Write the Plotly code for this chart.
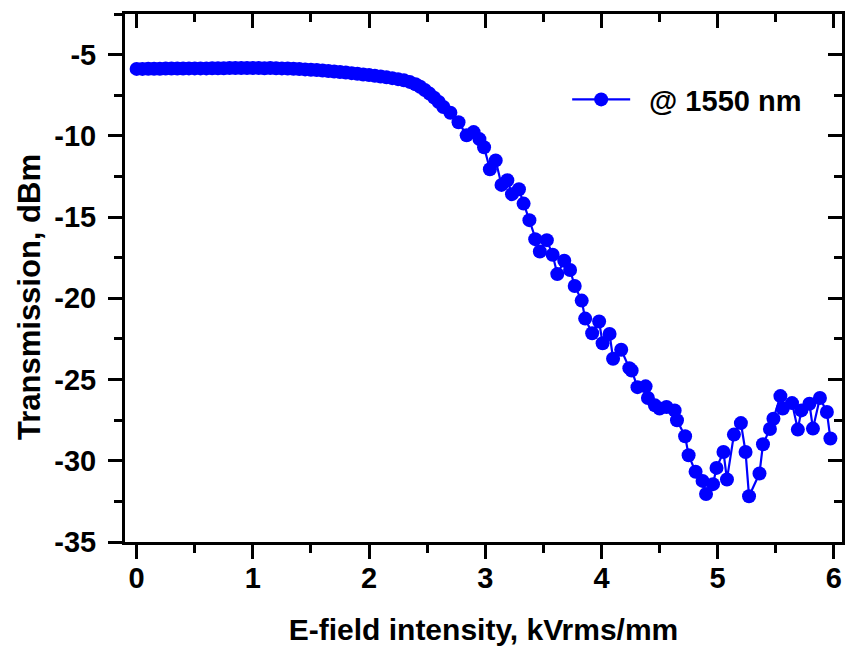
import plotly.graph_objects as go

# E-field intensity (kVrms/mm)
x_kv = [0.00, 0.05, 0.10, 0.15, 0.20, 0.25, 0.30, 0.35, 0.40, 0.45,
        0.50, 0.55, 0.60, 0.65, 0.70, 0.75, 0.80, 0.85, 0.90, 0.95,
        1.00, 1.05, 1.10, 1.15, 1.20, 1.25, 1.30, 1.35, 1.40, 1.45,
        1.50, 1.55, 1.60, 1.65, 1.70, 1.75, 1.80, 1.85, 1.90, 1.95,
        2.00, 2.05, 2.10, 2.15, 2.20, 2.25, 2.30, 2.35, 2.40, 2.44,
        2.48, 2.52, 2.56, 2.60, 2.64, 2.70, 2.77, 2.84, 2.90, 2.95,
        2.99, 3.04, 3.09, 3.14, 3.19, 3.23, 3.29, 3.33, 3.38, 3.43,
        3.47, 3.53, 3.58, 3.62, 3.68, 3.73, 3.77, 3.83, 3.86, 3.92,
        3.98, 4.01, 4.07, 4.10, 4.17, 4.24, 4.26, 4.31, 4.38, 4.40,
        4.46, 4.50, 4.56, 4.63, 4.65, 4.72, 4.75, 4.81, 4.87, 4.90,
        4.96, 4.99, 5.05, 5.08, 5.14, 5.20, 5.24, 5.27, 5.36, 5.39,
        5.45, 5.48, 5.54, 5.56, 5.64, 5.69, 5.72, 5.79, 5.82, 5.88,
        5.94, 5.97]

# Transmission (dBm) @ 1550 nm
trans_dbm = [-5.88, -5.88, -5.87, -5.87, -5.87, -5.86, -5.86, -5.86, -5.86, -5.85,
             -5.85, -5.85, -5.85, -5.84, -5.84, -5.84, -5.83, -5.83, -5.83, -5.83,
             -5.82, -5.83, -5.84, -5.83, -5.84, -5.85, -5.86, -5.87, -5.89, -5.91,
             -5.93, -5.95, -5.98, -6.01, -6.04, -6.07, -6.10, -6.14, -6.18, -6.22,
             -6.26, -6.30, -6.35, -6.40, -6.45, -6.51, -6.58, -6.68, -6.82, -6.98,
             -7.18, -7.40, -7.65, -7.92, -8.22, -8.58, -9.16, -9.97, -9.77, -10.20,
             -10.70, -12.06, -11.51, -13.02, -12.73, -13.59, -13.29, -14.17, -15.19, -16.36,
             -17.12, -16.42, -17.32, -18.51, -17.69, -18.26, -19.24, -20.14, -21.25, -22.15,
             -21.43, -22.77, -22.19, -23.72, -23.17, -24.30, -24.44, -25.47, -25.42, -26.14,
             -26.59, -26.79, -26.69, -26.90, -27.51, -28.49, -29.66, -30.68, -31.24, -32.05,
             -31.44, -30.44, -29.46, -31.15, -28.39, -27.68, -29.46, -32.18, -30.78, -28.98,
             -28.04, -27.41, -26.02, -26.79, -26.45, -28.08, -26.90, -26.49, -28.02, -26.14,
             -27.00, -28.63]

x_ticks = [0, 1, 2, 3, 4, 5, 6]
x_labels = ["0", "1", "2", "3", "4", "5", "6"]
y_ticks = [-5, -10, -15, -20, -25, -30, -35]
y_labels = ["-5", "-10", "-15", "-20", "-25", "-30", "-35"]
series_name = "@ 1550 nm"
x_title = "E-field intensity, kVrms/mm"
y_title = "Transmission, dBm"

FONT = "Arial, Liberation Sans, sans-serif"
BLUE = "#0000FF"
XR = [-0.1, 6.07]
YR = [-35, -2.5]
FS = 29

fig = go.Figure()
fig.add_trace(go.Scatter(
    x=x_kv, y=trans_dbm, mode="lines+markers", name="\u00a0\u2009" + series_name,
    line=dict(color=BLUE, width=2.2),
    marker=dict(color=BLUE, size=14, line=dict(width=0)),
))
fig.add_trace(go.Scatter(x=[], y=[], xaxis="x2", yaxis="y2", showlegend=False))

tickfont = dict(family=FONT, size=FS, color="black", weight="bold")
common = dict(showline=True, linecolor="black", linewidth=3, showgrid=False,
              zeroline=False, tickcolor="black", tickwidth=3)

fig.update_layout(
    width=845, height=651,
    margin=dict(l=125, r=3, t=14, b=109),
    paper_bgcolor="white", plot_bgcolor="white",
    font=dict(family=FONT, color="black"),
    xaxis=dict(range=XR, tickvals=x_ticks, ticktext=x_labels, ticks="outside", ticklen=14,
               tickfont=tickfont, ticklabelstandoff=-6,
               minor=dict(dtick=0.5, tick0=0, ticks="outside", ticklen=8,
                          tickwidth=3, tickcolor="black"),
               title=dict(text=x_title, font=dict(family=FONT, size=30, weight="bold"),
                          standoff=27),
               **common),
    yaxis=dict(range=YR, tickvals=y_ticks, ticktext=y_labels, ticks="outside", ticklen=14,
               tickfont=tickfont, ticklabelstandoff=6,
               minor=dict(dtick=2.5, tick0=0, ticks="outside", ticklen=8,
                          tickwidth=3, tickcolor="black"),
               **common),
    xaxis2=dict(range=XR, overlaying="x", side="top", anchor="y", tickvals=x_ticks,
                ticks="inside", ticklen=14, showticklabels=False,
                minor=dict(dtick=0.5, tick0=0, ticks="inside", ticklen=8,
                           tickwidth=3, tickcolor="black"),
                **common),
    yaxis2=dict(range=YR, overlaying="y", side="right", anchor="x", tickvals=y_ticks,
                ticks="inside", ticklen=14, showticklabels=False,
                minor=dict(dtick=2.5, tick0=0, ticks="inside", ticklen=8,
                           tickwidth=3, tickcolor="black"),
                **common),
    annotations=[dict(text=y_title, textangle=-90, xref="paper", yref="paper",
                      x=(29 - 125) / 717, y=(542 - 297) / 528,
                      xanchor="center", yanchor="middle", showarrow=False,
                      font=dict(family=FONT, size=31, color="black", weight="bold"))],
    showlegend=True,
    legend=dict(x=0.6167, y=0.838, xanchor="left", yanchor="middle",
                itemwidth=58,
                bgcolor="rgba(0,0,0,0)", borderwidth=0,
                font=dict(family=FONT, size=FS, color="black", weight="bold")),
)

fig.write_html("out.html")
